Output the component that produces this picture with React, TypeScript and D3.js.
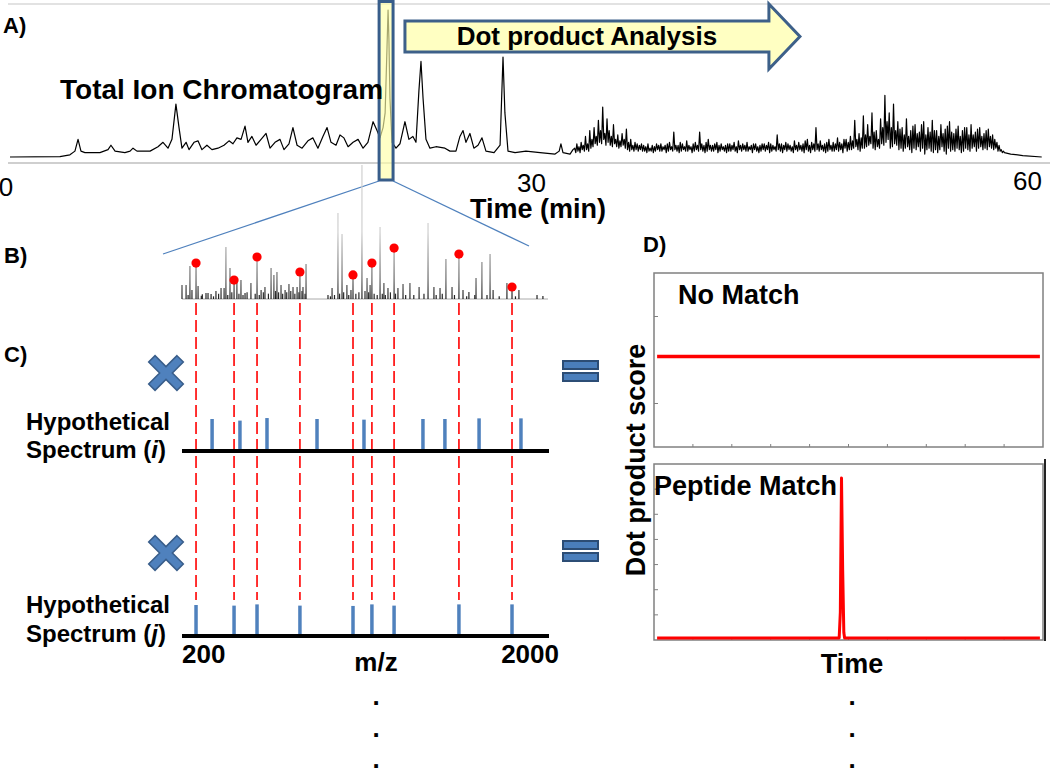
import React from 'react';
import * as d3 from 'd3';

// ---------- A) Total ion chromatogram ----------
const ticTime = [0.23, 3.13, 3.71, 4.0, 4.18, 4.35, 4.58, 5.45, 5.92, 6.09, 6.33, 6.9, 7.2, 7.37, 7.6, 8.36, 8.82, 9.11, 9.4, 9.63, 9.86, 10.04, 10.21, 10.45, 10.62, 10.91, 11.14, 11.37, 11.66, 11.95, 12.3, 12.65, 12.94, 13.17, 13.4, 13.64, 13.87, 14.04, 14.27, 14.51, 14.8, 15.09, 15.32, 15.61, 15.9, 16.13, 16.42, 16.65, 16.89, 17.18, 17.52, 17.81, 18.1, 18.39, 18.63, 18.86, 19.15, 19.38, 19.61, 19.85, 20.14, 20.43, 20.72, 21.0, 21.3, 21.53, 21.7, 21.88, 22.0, 22.11, 22.17, 22.22, 22.28, 22.4, 22.63, 22.86, 23.15, 23.38, 23.61, 23.79, 23.96, 24.08, 24.2, 24.37, 24.6, 24.95, 25.47, 25.76, 26.11, 26.34, 26.52, 26.69, 26.92, 27.15, 27.39, 27.62, 27.85, 28.32, 28.67, 28.84, 28.95, 29.13, 29.54, 30.17, 30.99, 31.86, 32.1, 32.2, 32.32, 32.73, 32.9];
const ticIntensity = [0, 0.3, 1.5, 4, 12, 4, 3, 3, 5, 8, 4, 3, 4, 6, 4, 4, 7, 10, 6, 12, 36, 20, 6, 10, 5, 10, 11, 5, 8, 5, 6, 8, 11, 9, 13, 12, 21, 10, 14, 8, 12, 16, 6, 10, 12, 5, 9, 20, 8, 6, 11, 13, 6, 14, 20, 10, 8, 15, 13, 7, 10, 12, 6, 10, 24, 18, 13, 20, 30, 75, 100, 80, 40, 10, 6, 9, 24, 12, 14, 10, 45, 65, 40, 12, 6, 7, 6, 4, 4, 14, 18, 10, 16, 6, 8, 13, 4, 3, 8, 68, 30, 4, 3, 4, 3, 2, 4, 9, 3, 2, 5];
// densely sampled noisy region (one row per minute, 33 → 58 min)
const noiseStart = 33.0;
const noiseStep = 0.0625;
const noiseIntensity = [
  6, 3, 9, 4, 7, 3, 10, 5, 8, 4, 14, 5, 9, 4, 18, 6,
  12, 7, 20, 9, 14, 8, 25, 10, 18, 9, 34, 12, 16, 8, 26, 10,
  18, 8, 14, 7, 22, 9, 12, 7, 15, 6, 11, 7, 16, 8, 12, 6,
  19, 5, 10, 4, 12, 5, 8, 4, 10, 5, 9, 4, 8, 5, 9, 4,
  8, 4, 7, 3, 9, 4, 6, 4, 8, 3, 7, 4, 9, 5, 8, 4,
  9, 4, 7, 5, 8, 3, 9, 4, 10, 5, 7, 4, 17, 5, 8, 4,
  8, 3, 10, 4, 9, 5, 7, 4, 11, 4, 8, 5, 7, 3, 9, 4,
  10, 5, 8, 4, 17, 5, 9, 4, 8, 3, 10, 4, 12, 5, 8, 4,
  8, 4, 9, 5, 10, 3, 8, 4, 9, 5, 7, 4, 8, 3, 9, 4,
  9, 4, 8, 5, 10, 4, 7, 3, 11, 5, 8, 4, 9, 5, 8, 4,
  10, 4, 7, 5, 8, 3, 9, 5, 9, 4, 7, 3, 8, 4, 9, 5,
  9, 4, 8, 5, 10, 3, 9, 4, 8, 5, 7, 4, 15, 5, 9, 4,
  9, 3, 8, 5, 10, 4, 9, 5, 8, 4, 7, 3, 11, 5, 8, 4,
  10, 5, 8, 4, 9, 3, 11, 5, 12, 4, 8, 3, 10, 5, 9, 4,
  20, 5, 9, 4, 11, 5, 8, 4, 9, 3, 10, 4, 12, 5, 8, 4,
  10, 4, 9, 5, 13, 4, 10, 5, 9, 3, 12, 6, 12, 4, 10, 5,
  14, 5, 11, 6, 25, 7, 12, 5, 16, 4, 13, 6, 28, 6, 15, 7,
  22, 8, 14, 9, 30, 6, 17, 5, 18, 7, 12, 6, 26, 9, 20, 8,
  42, 10, 24, 12, 30, 6, 20, 7, 36, 9, 18, 8, 24, 5, 19, 6,
  20, 4, 15, 6, 26, 7, 14, 5, 18, 3, 21, 6, 22, 5, 16, 7,
  17, 4, 22, 6, 24, 2, 15, 5, 20, 6, 17, 4, 25, 3, 18, 5,
  18, 3, 14, 5, 22, 7, 16, 4, 19, 2, 21, 6, 24, 4, 17, 5,
  16, 4, 19, 6, 21, 5, 14, 3, 18, 4, 20, 6, 20, 5, 15, 4,
  22, 6, 15, 7, 17, 4, 19, 6, 20, 7, 14, 5, 16, 6, 18, 5,
  19, 7, 14, 6, 15, 5, 12, 6, 10, 4, 8, 4, 5, 3, 4, 3,
];
const tailTime = [58.3, 59.0, 60.1];
const tailIntensity = [2, 1, 0];
const timeTicks = [0, 30, 60];
const highlightWindow = [21.65, 22.46];
const arrowSpan = [23.15, 44.27, 46.07];

// ---------- B) experimental spectrum ----------
const specMz = [200, 220, 239, 249, 279, 318, 328, 343, 367, 392, 407, 416, 436, 470, 490, 510, 539, 589, 608, 638, 652, 667, 687, 707, 726, 746, 766, 795, 810, 918, 938, 967, 987, 1011, 1031, 1085, 1110, 1125, 1174, 1193, 1213, 1262, 1287, 1321, 1366, 1410, 1439, 1469, 1498, 1528, 1582, 1611, 1646, 1675, 1715, 1730, 1798, 1857, 1946, 1975,
  230, 295, 300, 355, 380, 425, 445, 480, 500, 520, 560, 580, 600, 625, 660, 675, 695, 715, 735, 755, 775, 790, 805, 930, 950, 975, 995, 1020, 1055, 1070, 1100, 1118, 1145, 1160, 1185, 1200, 1225, 1250, 1300, 1340, 1390, 1450, 1480, 1540, 1600, 1640, 1700, 1760, 1840];
const specInt = [10.4, 10.4, 24.6, 6.7, 9.7, 4.5, 4.5, 3.7, 6, 8.2, 8.2, 38.8, 23.1, 12.7, 14.2, 4.5, 11.9, 6.7, 9, 23.1, 17.9, 20.1, 10.4, 6.7, 11.2, 9, 9, 9, 26.1, 3, 8.2, 64.2, 48.5, 10.4, 6.7, 100, 15.7, 10.4, 53.7, 11.9, 8.2, 8.2, 11.2, 11.9, 9, 56.7, 9, 8.2, 29.9, 9, 6.7, 5.2, 15.7, 27.6, 33.6, 6.7, 11.9, 6.7, 3, 2.2,
  3, 2.5, 3.5, 2, 4, 3, 5, 4, 3, 5, 4, 3, 5, 4, 6, 5, 4, 5, 6, 4, 5, 6, 4, 2, 3, 4, 5, 3, 4, 5, 6, 5, 4, 3, 4, 3, 5, 4, 3, 3, 4, 3, 4, 3, 2, 3, 3, 2, 2];
const matchMz = [269, 456, 569, 780, 1041, 1134, 1243, 1562, 1823];
const matchInt = [24.6, 11.9, 29.1, 17.9, 15.7, 24.6, 35.8, 31.3, 6.7];

// ---------- C) hypothetical spectra ----------
const hypoIMz = [348, 485, 618, 864, 1095, 1385, 1493, 1661, 1867];
const hypoIInt = [1, 0.95, 1.03, 1, 0.98, 1, 1, 1.02, 1.02];
const hypoJInt = [1, 0.98, 1.02, 0.98, 0.97, 1.02, 0.98, 1.02, 1.02];
const mzTicks = [200, 2000];

// ---------- D) dot product score traces ----------
const noMatchTime = [0.8, 99.2];
const noMatchScore = [0.52, 0.52];
const peptideTime = [0.8, 47.6, 47.9, 48.2, 48.5, 48.8, 49.0, 99.2];
const peptideScore = [0.08, 0.08, 1.1, 6.44, 2.8, 0.3, 0.08, 0.08];
const topScoreTicks = [0.25, 0.75];
const bottomScoreTicks = [1, 2, 3, 4, 5, 6];
const scanTicks = [10, 20, 30, 40, 50, 60, 70, 80, 90];

const FF = "'Liberation Sans', Arial, Helvetica, sans-serif";
const BLUE = '#4f81bd';
const BLUE_DARK = '#385d8a';
const RED = '#ff0000';

function crossPath(a: number, h: number) {
  const p = d3.path();
  const pts = [[-h, -a], [h, -a], [h, -h], [a, -h], [a, h], [h, h], [h, a], [-h, a], [-h, h], [-a, h], [-a, -h], [-h, -h]];
  pts.forEach(([x, y], i) => (i === 0 ? p.moveTo(x, y) : p.lineTo(x, y)));
  p.closePath();
  return p.toString();
}

export default function App() {
  const xTime = d3.scaleLinear().domain([0, 60]).range([6, 1040]);
  const yTic = d3.scaleLinear().domain([0, 100]).range([157, 10]);
  const xMz = d3.scaleLinear().domain([200, 2000]).range([182, 548]);
  const ySpec = d3.scaleLinear().domain([0, 100]).range([299, 165]);
  const yHypoI = d3.scaleLinear().domain([0, 1]).range([451, 419]);
  const yHypoJ = d3.scaleLinear().domain([0, 1]).range([636, 605]);
  const xScan = d3.scaleLinear().domain([0, 100]).range([654, 1043]);
  const yTop = d3.scaleLinear().domain([0, 1]).range([447, 273]);
  const yBot = d3.scaleLinear().domain([0, 7]).range([640, 464]);

  const ticPts: [number, number][] = [
    ...ticTime.map((t, i) => [t, ticIntensity[i]] as [number, number]),
    ...noiseIntensity.map((v, i) => [noiseStart + i * noiseStep, v] as [number, number]),
    ...tailTime.map((t, i) => [t, tailIntensity[i]] as [number, number]),
  ];
  const ticLine = d3.line<[number, number]>().x(d => xTime(d[0])).y(d => yTic(d[1]))(ticPts) || '';

  const topLine = d3.line<number>().x((_, i) => xScan(noMatchTime[i])).y(d => yTop(d))(noMatchScore) || '';
  const botLine = d3.line<number>().x((_, i) => xScan(peptideTime[i])).y(d => yBot(d))(peptideScore) || '';

  const hx0 = xTime(highlightWindow[0]);
  const hx1 = xTime(highlightWindow[1]);
  const boxBottom = 180;

  const ab0 = xTime(arrowSpan[0]);
  const ab1 = xTime(arrowSpan[1]);
  const ab2 = xTime(arrowSpan[2]);
  const arrow = d3.path();
  arrow.moveTo(ab0, 21);
  arrow.lineTo(ab1, 21);
  arrow.lineTo(ab1, 4);
  arrow.lineTo(ab2, 36.5);
  arrow.lineTo(ab1, 69);
  arrow.lineTo(ab1, 52);
  arrow.lineTo(ab0, 52);
  arrow.closePath();

  const cross = crossPath(20, 4.5);
  const labelAnchor = ['middle', 'start', 'end'];
  const labelDx = [0, -6, 2];
  const labelY = [196, 192, 190];

  return (
    <svg width={1050} height={773} style={{ position: 'absolute', left: 0, top: 0, background: '#fff' }} fontFamily={FF}>
      <defs>
        <linearGradient id="stickGrad" gradientUnits="userSpaceOnUse" x1={0} y1={ySpec(0)} x2={0} y2={ySpec(50)}>
          <stop offset="0" stopColor="#1a1a1a" />
          <stop offset="0.3" stopColor="#666" />
          <stop offset="1" stopColor="#cfcfcf" />
        </linearGradient>
      </defs>

      {/* ===== Panel A ===== */}
      <line x1={8} x2={1050} y1={4} y2={4} stroke="#d9d9d9" strokeWidth={1.5} />
      <line x1={8} x2={1050} y1={163} y2={163} stroke="#bfbfbf" strokeWidth={1.5} />
      <path d={ticLine} fill="none" stroke="#000" strokeWidth={1.2} strokeLinejoin="round" />
      <rect x={hx0} y={1.5} width={hx1 - hx0} height={boxBottom - 1.5} fill="#ffffa8" fillOpacity={0.65} stroke={BLUE_DARK} strokeWidth={3} />
      <path d={arrow.toString()} fill="#ffffc2" stroke="#3d6089" strokeWidth={3} strokeLinejoin="miter" />
      <text x={(ab0 + ab1) / 2} y={45} textAnchor="middle" fontSize={26} fontWeight="bold">Dot product Analysis</text>
      <text x={3} y={33} fontSize={22} fontWeight="bold">A)</text>
      <text x={60} y={99} fontSize={28} fontWeight="bold">Total Ion Chromatogram</text>
      {timeTicks.map((t, i) => (
        <text key={t} x={xTime(t) + labelDx[i]} y={labelY[i]} textAnchor={labelAnchor[i]} fontSize={26}>{t}</text>
      ))}
      <text x={538} y={218} textAnchor="middle" fontSize={27} fontWeight="bold">Time (min)</text>

      {/* zoom lines */}
      <line x1={hx0} y1={boxBottom + 1} x2={163} y2={254} stroke={BLUE} strokeWidth={1.3} />
      <line x1={hx1} y1={boxBottom + 1} x2={529} y2={246} stroke={BLUE} strokeWidth={1.3} />

      {/* ===== Panel B ===== */}
      <text x={4} y={263} fontSize={22} fontWeight="bold">B)</text>
      <line x1={xMz(200)} x2={xMz(2000)} y1={ySpec(0)} y2={ySpec(0)} stroke="#aaa" strokeWidth={1} />
      {specMz.map((m, i) => (
        <line key={'s' + i} x1={xMz(m)} x2={xMz(m)} y1={ySpec(0)} y2={ySpec(specInt[i])} stroke="url(#stickGrad)" strokeWidth={1.2} />
      ))}
      {matchMz.map((m, i) => (
        <line key={'ms' + i} x1={xMz(m)} x2={xMz(m)} y1={ySpec(0)} y2={ySpec(matchInt[i])} stroke="url(#stickGrad)" strokeWidth={1.2} />
      ))}
      {matchMz.map((m, i) => (
        <circle key={'d' + i} cx={xMz(m)} cy={ySpec(matchInt[i]) - 3} r={4.6} fill={RED} />
      ))}

      {/* ===== Panel C ===== */}
      <text x={4} y={362} fontSize={22} fontWeight="bold">C)</text>
      {matchMz.map((m, i) => (
        <line key={'rd' + i} x1={xMz(m)} x2={xMz(m)} y1={303} y2={600} stroke={RED} strokeWidth={1.6} strokeDasharray="12,5" />
      ))}

      {/* spectrum i */}
      <path d={cross} transform="translate(166,373) rotate(45)" fill={BLUE} stroke={BLUE_DARK} strokeWidth={1.5} />
      <rect x={563} y={361} width={35} height={8} fill="#4a7ebb" stroke="#2c4d75" strokeWidth={2} />
      <rect x={563} y={373} width={35} height={8} fill="#4a7ebb" stroke="#2c4d75" strokeWidth={2} />
      <text x={26} y={430} fontSize={24} fontWeight="bold">Hypothetical</text>
      <text x={26} y={458} fontSize={24} fontWeight="bold">Spectrum (<tspan fontStyle="italic">i</tspan>)</text>
      {hypoIMz.map((m, i) => (
        <line key={'hi' + i} x1={xMz(m)} x2={xMz(m)} y1={yHypoI(0)} y2={yHypoI(hypoIInt[i])} stroke={BLUE} strokeWidth={3.5} />
      ))}
      <line x1={182} x2={549} y1={yHypoI(0)} y2={yHypoI(0)} stroke="#000" strokeWidth={4} />

      {/* spectrum j */}
      <path d={cross} transform="translate(166,553) rotate(45)" fill={BLUE} stroke={BLUE_DARK} strokeWidth={1.5} />
      <rect x={563} y={541} width={35} height={8} fill="#4a7ebb" stroke="#2c4d75" strokeWidth={2} />
      <rect x={563} y={553} width={35} height={8} fill="#4a7ebb" stroke="#2c4d75" strokeWidth={2} />
      <text x={26} y={613} fontSize={24} fontWeight="bold">Hypothetical</text>
      <text x={26} y={642} fontSize={24} fontWeight="bold">Spectrum (<tspan fontStyle="italic">j</tspan>)</text>
      {matchMz.map((m, i) => (
        <line key={'hj' + i} x1={xMz(m)} x2={xMz(m)} y1={yHypoJ(0)} y2={yHypoJ(hypoJInt[i])} stroke={BLUE} strokeWidth={3.5} />
      ))}
      <line x1={182} x2={549} y1={yHypoJ(0)} y2={yHypoJ(0)} stroke="#000" strokeWidth={4} />
      <text x={xMz(mzTicks[0])} y={663} fontSize={26} fontWeight="bold">{mzTicks[0]}</text>
      <text x={559} y={663} textAnchor="end" fontSize={26} fontWeight="bold">{mzTicks[1]}</text>
      <text x={376} y={671} textAnchor="middle" fontSize={26} fontWeight="bold">m/z</text>
      {[705, 737, 768].map(y => (
        <text key={'dm' + y} x={376} y={y} textAnchor="middle" fontSize={26} fontWeight="bold">.</text>
      ))}

      {/* ===== Panel D ===== */}
      <text x={643} y={252} fontSize={22} fontWeight="bold">D)</text>
      <rect x={xScan(0)} y={yTop(1)} width={xScan(100) - xScan(0)} height={yTop(0) - yTop(1)} fill="none" stroke="#808080" strokeWidth={1.5} />
      {topScoreTicks.map(v => (
        <line key={'tt' + v} x1={xScan(0)} x2={xScan(0) + 4} y1={yTop(v)} y2={yTop(v)} stroke="#808080" strokeWidth={1} />
      ))}
      {scanTicks.map(v => (
        <line key={'tb' + v} x1={xScan(v)} x2={xScan(v)} y1={yTop(0)} y2={yTop(0) - 3} stroke="#808080" strokeWidth={1} />
      ))}
      <path d={topLine} fill="none" stroke={RED} strokeWidth={3.5} />
      <text x={678} y={304} fontSize={27} fontWeight="bold">No Match</text>

      <rect x={xScan(0)} y={yBot(7)} width={xScan(100) - xScan(0)} height={yBot(0) - yBot(7)} fill="none" stroke="#808080" strokeWidth={1.5} />
      <line x1={1045} x2={1045} y1={459} y2={641} stroke="#222" strokeWidth={2} />
      {bottomScoreTicks.map(v => (
        <line key={'bt' + v} x1={xScan(0)} x2={xScan(0) + 4} y1={yBot(v)} y2={yBot(v)} stroke="#808080" strokeWidth={1} />
      ))}
      {scanTicks.map(v => (
        <line key={'bb' + v} x1={xScan(v)} x2={xScan(v)} y1={yBot(0)} y2={yBot(0) - 3} stroke="#808080" strokeWidth={1} />
      ))}
      <path d={botLine} fill="none" stroke={RED} strokeWidth={3} strokeLinejoin="round" />
      <text x={654} y={495} fontSize={27} fontWeight="bold">Peptide Match</text>

      <text transform="translate(645,460) rotate(-90)" textAnchor="middle" fontSize={27} fontWeight="bold">Dot product score</text>
      <text x={852} y={673} textAnchor="middle" fontSize={27} fontWeight="bold">Time</text>
      {[705, 737, 768].map(y => (
        <text key={'dd' + y} x={852} y={y} textAnchor="middle" fontSize={26} fontWeight="bold">.</text>
      ))}
    </svg>
  );
}
